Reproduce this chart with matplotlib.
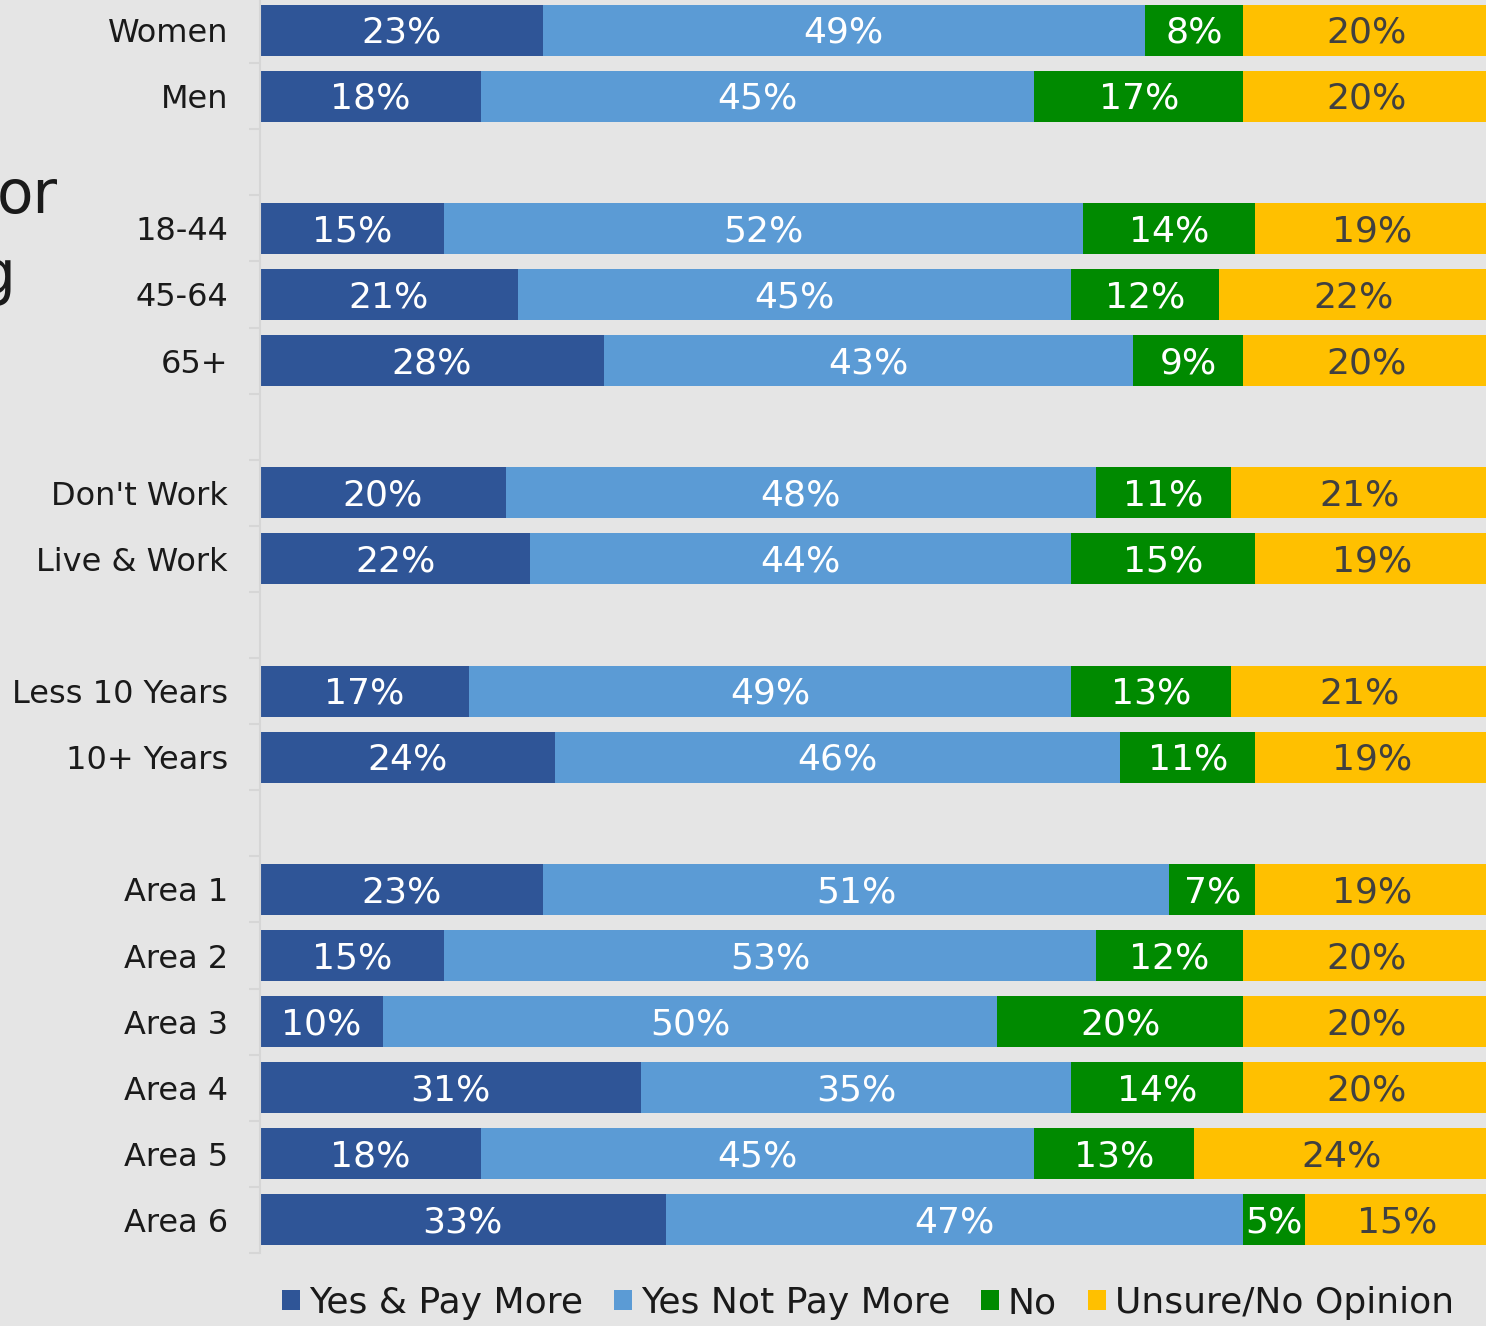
import matplotlib
matplotlib.use("Agg")
import matplotlib.pyplot as plt
from matplotlib.patches import Patch
import numpy as np

plt.rcParams['font.family'] = ['DejaVu Sans']

# Rows from top to bottom; empty strings are spacer rows between groups
categories = ["Women", "Men", "",
              "18-44", "45-64", "65+", "",
              "Don't Work", "Live & Work", "",
              "Less 10 Years", "10+ Years", "",
              "Area 1", "Area 2", "Area 3", "Area 4", "Area 5", "Area 6"]

series_names = ["Yes & Pay More", "Yes Not Pay More", "No", "Unsure/No Opinion"]

yes_pay_more = [23, 18, None, 15, 21, 28, None, 20, 22, None, 17, 24, None, 23, 15, 10, 31, 18, 33]
yes_not_pay  = [49, 45, None, 52, 45, 43, None, 48, 44, None, 49, 46, None, 51, 53, 50, 35, 45, 47]
no_answer    = [8, 17, None, 14, 12, 9, None, 11, 15, None, 13, 11, None, 7, 12, 20, 14, 13, 5]
unsure       = [20, 20, None, 19, 22, 20, None, 21, 19, None, 21, 19, None, 19, 20, 20, 20, 24, 15]

colors = ["#2F5597", "#5B9BD5", "#008A00", "#FFC000"]
label_colors = ["white", "white", "white", "#404040"]
text_color = "#1a1a1a"

W, H = 1486, 1326
fig = plt.figure(figsize=(W / 100, H / 100), dpi=100, facecolor="#e5e5e5")

ax_left, ax_right = 260, 1489
ax_top, ax_bottom = -3, 1253
ax = fig.add_axes([ax_left / W, 1 - ax_bottom / H,
                   (ax_right - ax_left) / W, (ax_bottom - ax_top) / H])
ax.set_facecolor("none")

n = len(categories)
ypos = np.arange(n)
series = [yes_pay_more, yes_not_pay, no_answer, unsure]
left = np.zeros(n)
for vals, col, lcol in zip(series, colors, label_colors):
    v = np.array([0 if x is None else x for x in vals], dtype=float)
    ax.barh(ypos, v, left=left, height=0.77, color=col, edgecolor="none")
    for i, x in enumerate(vals):
        if x is None:
            continue
        ax.text(left[i] + v[i] / 2, ypos[i] + 0.04, f"{x}%", ha="center", va="center",
                color=lcol, fontsize=26)
    left += v

ax.set_xlim(0, 100)
ax.set_ylim(n - 0.5, -0.5)
ax.set_yticks(ypos)
ax.set_yticklabels(categories, fontsize=23, color=text_color)
ax.tick_params(axis="y", which="major", length=0, pad=23)
ax.set_yticks(np.arange(n + 1) - 0.5, minor=True)
ax.tick_params(axis="y", which="minor", length=8, width=1.5, color="#d6d6d6")
ax.set_xticks([])
for s in ["top", "right", "bottom"]:
    ax.spines[s].set_visible(False)
ax.spines["left"].set_color("#d6d6d6")
ax.spines["left"].set_linewidth(1.5)

handles = [Patch(facecolor=c, edgecolor="none") for c in colors]
fig.legend(handles, series_names, loc="center",
           bbox_to_anchor=(868 / W, 1 - 1303 / H), ncol=4, frameon=False,
           fontsize=26, handlelength=0.5, handleheight=0.5, handletextpad=0.25,
           columnspacing=0.85, labelcolor=text_color)

# Title fragment on the left margin
fig.text(58 / W, 1 - 213 / H, "or", ha="right", va="baseline", fontsize=43,
         color=text_color)
fig.text(16 / W, 1 - 293 / H, "g", ha="right", va="baseline", fontsize=43,
         color=text_color)

fig.savefig("out.png", dpi=100, facecolor=fig.get_facecolor())
